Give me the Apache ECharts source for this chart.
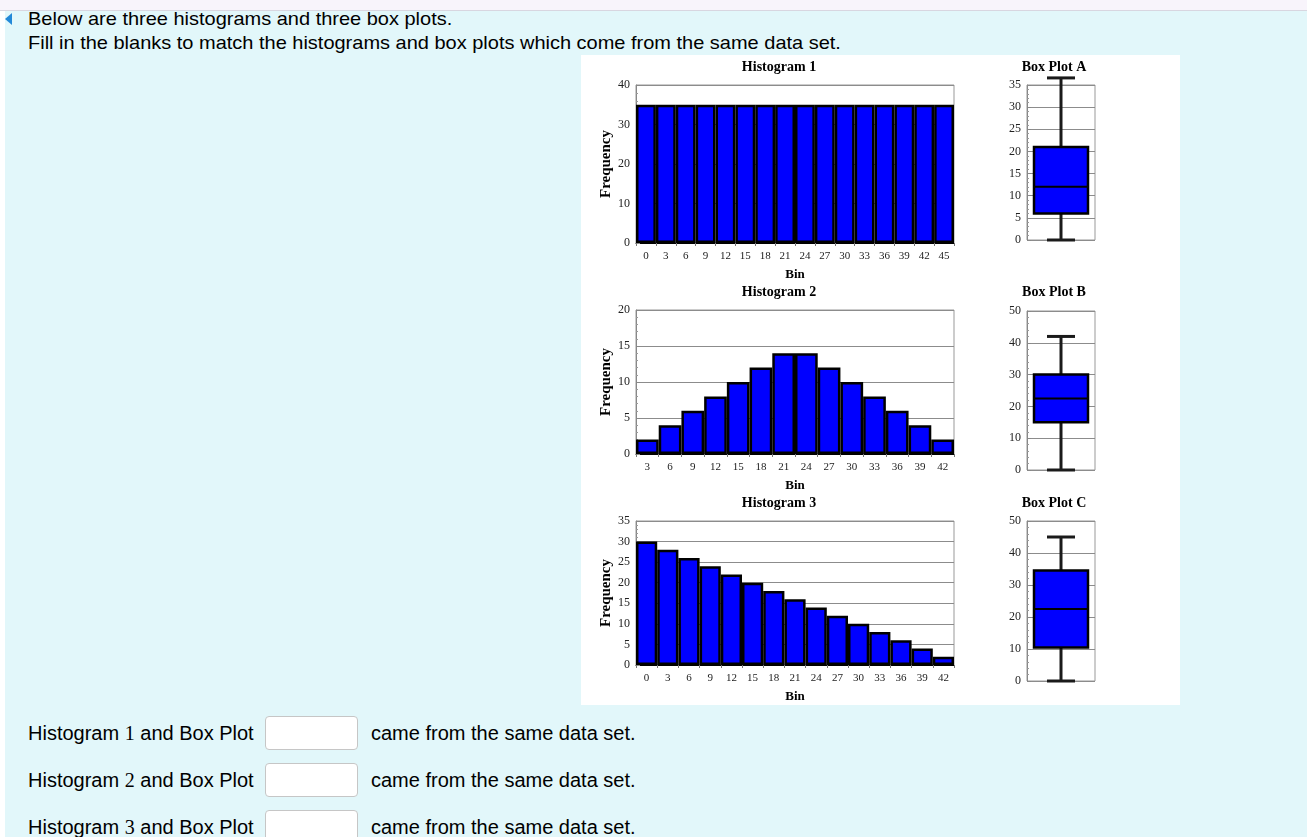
<!DOCTYPE html>
<html>
<head>
<meta charset="utf-8">
<title>Histograms and box plots</title>
<script src="https://cdn.jsdelivr.net/npm/echarts@6.0.0/dist/echarts.min.js"></script>
<style>
  html, body { margin: 0; padding: 0; width: 1307px; height: 837px; overflow: hidden; background: #fff; }
  body { font-family: "Liberation Sans", Arial, sans-serif; color: #000; }
  #topbar { position: absolute; left: 0; top: 0; width: 1307px; height: 10px; background: #f8f4fb; border-bottom: 1px solid #d8d6e0; }
  #page { position: absolute; left: 5px; top: 11px; width: 1302px; height: 826px; background: #e2f7fa; }
  .arrow { position: absolute; left: 5px; top: 13px; width: 0; height: 0;
           border-top: 6px solid transparent; border-bottom: 6px solid transparent; border-right: 7px solid #2389d8; }
  .intro { position: absolute; left: 28px; font-size: 18.5px; line-height: 22px; white-space: nowrap;
           transform: scaleX(1.08); transform-origin: left top; }
  #chart { position: absolute; left: 581px; top: 55px; width: 599px; height: 650px; background: #fff; }
  .row { position: absolute; left: 28px; font-size: 20px; line-height: 24px; white-space: nowrap; }
  .row .num { font-family: "Liberation Serif", "Times New Roman", serif; }
  .row .after { position: absolute; left: 343px; top: 0; }
  .blank { position: absolute; left: 265px; width: 93px; height: 34px; margin: 0; padding: 0;
           background: #fff; border: 1px solid #c6c6c6; border-radius: 4px; box-sizing: border-box; }
</style>
</head>
<body>
<div id="topbar"></div>
<div id="page"></div>
<div class="arrow"></div>
<div class="intro" style="top:8px">Below are three histograms and three box plots.</div>
<div class="intro" style="top:32px">Fill in the blanks to match the histograms and box plots which come from the same data set.</div>
<div id="chart"></div>

<div class="row" style="top:721px">Histogram <span class="num">1</span> and Box Plot<span class="after">came from the same data set.</span></div>
<input class="blank" type="text" style="top:716px">
<div class="row" style="top:768px">Histogram <span class="num">2</span> and Box Plot<span class="after">came from the same data set.</span></div>
<input class="blank" type="text" style="top:763px">
<div class="row" style="top:815px">Histogram <span class="num">3</span> and Box Plot<span class="after">came from the same data set.</span></div>
<input class="blank" type="text" style="top:810px">

<script>
// histogram bins and frequencies
const hist1Bins = ['0', '3', '6', '9', '12', '15', '18', '21', '24', '27', '30', '33', '36', '39', '42', '45'];
const hist1Freq = [35, 35, 35, 35, 35, 35, 35, 35, 35, 35, 35, 35, 35, 35, 35, 35];
const hist2Bins = ['3', '6', '9', '12', '15', '18', '21', '24', '27', '30', '33', '36', '39', '42'];
const hist2Freq = [2, 4, 6, 8, 10, 12, 14, 14, 12, 10, 8, 6, 4, 2];
const hist3Bins = ['0', '3', '6', '9', '12', '15', '18', '21', '24', '27', '30', '33', '36', '39', '42'];
const hist3Freq = [30, 28, 26, 24, 22, 20, 18, 16, 14, 12, 10, 8, 6, 4, 2];

// box plots: min, Q1, median, Q3, max
const boxA = [0, 6, 12, 21, 36.6];
const boxB = [0, 15, 22.5, 30, 42];
const boxC = [0, 10.5, 22.5, 34.5, 45];

const histTitles = ['Histogram 1', 'Histogram 2', 'Histogram 3'];
const boxTitles = ['Box Plot A', 'Box Plot B', 'Box Plot C'];

const SERIF = '"Liberation Serif", "Times New Roman", serif';
const BLUE = '#0000ff';

// plot areas, relative to the white panel
const histLayout = [
    { left: 55, top: 30, width: 318, height: 158, max: 40, interval: 10 },
    { left: 55, top: 255, width: 318, height: 144, max: 20, interval: 5 },
    { left: 55, top: 466, width: 318, height: 144, max: 35, interval: 5 }
];
const boxLayout = [
    { left: 446, top: 30, width: 68, height: 155, max: 35, interval: 5 },
    { left: 446, top: 256, width: 68, height: 159, max: 50, interval: 10 },
    { left: 446, top: 466, width: 68, height: 160, max: 50, interval: 10 }
];
const titleY = [12, 237, 448];
const histTitleX = 198;
const boxTitleX = 473;

const hists = [
    { bins: hist1Bins, freq: hist1Freq },
    { bins: hist2Bins, freq: hist2Freq },
    { bins: hist3Bins, freq: hist3Freq }
];
const boxes = [boxA, boxB, boxC];

function valueAxis(i, lay, withName) {
    return {
        type: 'value',
        gridIndex: i,
        min: 0,
        max: lay.max,
        interval: lay.interval,
        name: withName ? 'Frequency' : '',
        nameLocation: 'middle',
        nameRotate: 90,
        nameGap: 22,
        nameMoveOverlap: false,
        nameTextStyle: { fontFamily: SERIF, fontWeight: 'bold', fontSize: 15, color: '#000' },
        axisLine: { show: true, lineStyle: { color: '#888', width: 1 } },
        axisTick: { show: true, inside: true, length: 4, lineStyle: { color: '#888' } },
        minorTick: { show: true, splitNumber: 5, length: 2, lineStyle: { color: '#999' } },
        splitLine: { show: true, lineStyle: { color: '#8c8c8c', width: 1 } },
        axisLabel: { margin: 6, fontFamily: SERIF, fontSize: 12, color: '#222' }
    };
}

// box plot drawn through the axes: box, median, whiskers and caps
function renderBox(params, api) {
    const mn = api.value(0), q1 = api.value(1), md = api.value(2), q3 = api.value(3), mx = api.value(4);
    const p = (x, y) => api.coord([x, y]);
    const boxL = 0.103, boxR = 0.897, capL = 0.294, capR = 0.706, mid = 0.5;
    const tl = p(boxL, q3), br = p(boxR, q1);
    const whisker = { stroke: '#1a1a1a', lineWidth: 3 };
    const seg = (a, b, style) => ({ type: 'line', shape: { x1: a[0], y1: a[1], x2: b[0], y2: b[1] }, style: style });
    return {
        type: 'group',
        children: [
            seg(p(mid, mn), p(mid, q1), whisker),
            seg(p(mid, q3), p(mid, mx), whisker),
            seg(p(capL, mn), p(capR, mn), whisker),
            seg(p(capL, mx), p(capR, mx), whisker),
            {
                type: 'rect',
                shape: { x: tl[0], y: tl[1], width: br[0] - tl[0], height: br[1] - tl[1] },
                style: { fill: BLUE, stroke: '#000', lineWidth: 2.5 }
            },
            seg(p(boxL, md), p(boxR, md), { stroke: '#000', lineWidth: 2 })
        ]
    };
}

const grid = [], xAxis = [], yAxis = [], series = [], graphic = [];

function titleText(x, y, text) {
    return {
        type: 'text', x: x, y: y,
        style: { text: text, align: 'center', verticalAlign: 'middle',
            textAlign: 'center', textVerticalAlign: 'middle',
            font: 'bold 14px ' + SERIF, fill: '#000' }
    };
}

hists.forEach((h, i) => {
    const lay = histLayout[i];
    grid.push({ left: lay.left, top: lay.top, width: lay.width, height: lay.height,
        show: true, borderColor: '#999', borderWidth: 1, backgroundColor: 'transparent' });
    xAxis.push({
        type: 'category',
        gridIndex: i,
        data: h.bins,
        name: 'Bin',
        nameLocation: 'middle',
        nameGap: 25,
        nameMoveOverlap: false,
        nameTextStyle: { fontFamily: SERIF, fontWeight: 'bold', fontSize: 13, color: '#000' },
        axisLine: { show: true, lineStyle: { color: '#000', width: 1 } },
        axisTick: { show: true, length: 3, lineStyle: { color: '#777' } },
        splitLine: { show: false },
        axisLabel: { interval: 0, margin: 8, fontFamily: SERIF, fontSize: 11, color: '#222' }
    });
    yAxis.push(valueAxis(i, lay, true));
    series.push({
        type: 'bar',
        xAxisIndex: i,
        yAxisIndex: i,
        data: h.freq,
        barCategoryGap: '0%',
        itemStyle: { color: BLUE, borderColor: '#000', borderWidth: 2.5 },
        silent: true
    });
    graphic.push(titleText(histTitleX, titleY[i], histTitles[i]));
});

boxes.forEach((b, k) => {
    const lay = boxLayout[k];
    const i = k + 3;
    grid.push({ left: lay.left, top: lay.top, width: lay.width, height: lay.height,
        show: true, borderColor: '#999', borderWidth: 1, backgroundColor: 'transparent' });
    xAxis.push({ type: 'value', gridIndex: i, min: 0, max: 1, show: false });
    yAxis.push(valueAxis(i, lay, false));
    series.push({
        type: 'custom',
        xAxisIndex: i,
        yAxisIndex: i,
        clip: false,
        data: [b],
        renderItem: renderBox,
        silent: true
    });
    graphic.push(titleText(boxTitleX, titleY[k], boxTitles[k]));
});

const chart = echarts.init(document.getElementById('chart'), null, { renderer: 'canvas' });
chart.setOption({
    animation: false,
    backgroundColor: '#fff',
    grid: grid,
    xAxis: xAxis,
    yAxis: yAxis,
    series: series,
    graphic: graphic
});
</script>
</body>
</html>
